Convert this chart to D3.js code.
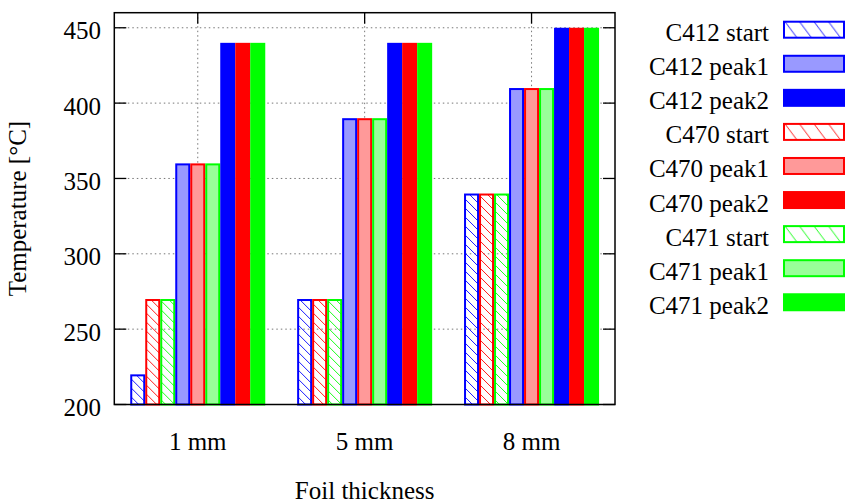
<!DOCTYPE html>
<html>
<head>
<meta charset="utf-8">
<script src="https://cdn.jsdelivr.net/npm/d3@7"></script>
<style>
  html, body { margin: 0; padding: 0; background: #fff; }
  svg { display: block; }
  svg text { font-family: 'Liberation Serif', Tinos, 'DejaVu Serif', serif; fill: #000; }
</style>
</head>
<body>
<div id="chart"></div>
<script>
// Foil thickness groups
const categories = ["1 mm", "5 mm", "8 mm"];

// Temperatures (°C) per series, one value per foil thickness
const c412Start = [220, 270, 340];
const c412Peak1 = [360, 390, 410];
const c412Peak2 = [440, 440, 450];
const c470Start = [270, 270, 340];
const c470Peak1 = [360, 390, 410];
const c470Peak2 = [440, 440, 450];
const c471Start = [270, 270, 340];
const c471Peak1 = [360, 390, 410];
const c471Peak2 = [440, 440, 450];

const seriesNames = [
  "C412 start", "C412 peak1", "C412 peak2",
  "C470 start", "C470 peak1", "C470 peak2",
  "C471 start", "C471 peak1", "C471 peak2"
];
const seriesValues = [
  c412Start, c412Peak1, c412Peak2,
  c470Start, c470Peak1, c470Peak2,
  c471Start, c471Peak1, c471Peak2
];

const yTicks = [200, 250, 300, 350, 400, 450];

// Styling per series: base colour and fill kind
const baseColors = ["#0000ff", "#ff0000", "#00ff00"];
const lightColors = ["#9999ff", "#ff9999", "#99ff99"];
const kinds = ["hatch", "light", "solid"];

const series = seriesNames.map((name, i) => ({
  name,
  values: seriesValues[i],
  color: baseColors[Math.floor(i / 3)],
  light: lightColors[Math.floor(i / 3)],
  kind: kinds[i % 3],
  ki: i % 3,
  ci: Math.floor(i / 3),
  key: "s" + i
}));

// Within a group, bars run by stage (start, peak1, peak2), then by alloy
const barOrder = series.slice().sort((a, b) => a.ki - b.ki || a.ci - b.ci);

const W = 848, H = 503;
const plot = { left: 114.3, right: 615, top: 12.7, bottom: 404.5 };

const svg = d3.select("#chart").append("svg")
  .attr("width", W).attr("height", H);

// Hatch patterns: one for bars, one for legend swatches
const defs = svg.append("defs");
baseColors.forEach((c, i) => {
  const p = defs.append("pattern")
    .attr("id", "hatch" + i)
    .attr("patternUnits", "userSpaceOnUse")
    .attr("width", 9).attr("height", 9);
  p.append("path")
    .attr("d", "M0,0 L9,9 M-1,8 L1,10 M8,-1 L10,1")
    .attr("stroke", c).attr("stroke-width", 0.9)
    .attr("fill", "none");

  const q = defs.append("pattern")
    .attr("id", "hatchKey" + i)
    .attr("patternUnits", "objectBoundingBox")
    .attr("width", 15 / 62).attr("height", 1);
  q.append("path")
    .attr("d", "M1,0 L13.7,17")
    .attr("stroke", c).attr("stroke-width", 0.9)
    .attr("fill", "none");
});

// Scales
const x0 = d3.scaleBand()
  .domain(categories)
  .range([plot.left, plot.right])
  .paddingInner(0.191)
  .paddingOuter(0.0955);

const x1 = d3.scaleBand()
  .domain(barOrder.map(s => s.key))
  .range([0, x0.bandwidth()])
  .padding(0);

const y = d3.scaleLinear()
  .domain([200, 460])
  .range([plot.bottom, plot.top]);

const centerOf = c => x0(c) + x0.bandwidth() / 2;

// Grid lines (dotted)
const grid = svg.append("g").attr("stroke", "#777").attr("stroke-width", 1)
  .attr("stroke-dasharray", "1.5,3");
grid.selectAll("line.h").data(yTicks.filter(t => t > 200)).join("line")
  .attr("class", "h")
  .attr("x1", plot.left).attr("x2", plot.right)
  .attr("y1", d => y(d)).attr("y2", d => y(d));
grid.selectAll("line.v").data(categories).join("line")
  .attr("class", "v")
  .attr("x1", d => centerOf(d)).attr("x2", d => centerOf(d))
  .attr("y1", plot.top).attr("y2", plot.bottom);

// Tick marks (inward, mirrored)
const ticks = svg.append("g").attr("stroke", "#000").attr("stroke-width", 1.3);
yTicks.forEach(t => {
  ticks.append("line").attr("x1", plot.left).attr("x2", plot.left + 12)
    .attr("y1", y(t)).attr("y2", y(t));
  ticks.append("line").attr("x1", plot.right).attr("x2", plot.right - 12)
    .attr("y1", y(t)).attr("y2", y(t));
});
categories.forEach(c => {
  ticks.append("line").attr("x1", centerOf(c)).attr("x2", centerOf(c))
    .attr("y1", plot.top).attr("y2", plot.top + 11);
  ticks.append("line").attr("x1", centerOf(c)).attr("x2", centerOf(c))
    .attr("y1", plot.bottom).attr("y2", plot.bottom - 11);
});

// Bars
const fillFor = s => s.kind === "hatch" ? `url(#hatch${s.ci})`
  : s.kind === "light" ? s.light : s.color;

const groups = svg.append("g").selectAll("g")
  .data(categories).join("g")
  .attr("transform", d => `translate(${x0(d)},0)`);

groups.selectAll("rect")
  .data((c, gi) => barOrder.map(s => ({ s, v: s.values[gi] })))
  .join("rect")
  .attr("x", d => x1(d.s.key) + 1)
  .attr("y", d => y(d.v) + 1)
  .attr("width", x1.bandwidth() - 2)
  .attr("height", d => y(200) - y(d.v) - 1)
  .attr("fill", d => fillFor(d.s))
  .attr("stroke", d => d.s.color)
  .attr("stroke-width", 2);

// Frame
svg.append("rect")
  .attr("x", plot.left).attr("y", plot.top)
  .attr("width", plot.right - plot.left)
  .attr("height", plot.bottom - plot.top)
  .attr("fill", "none").attr("stroke", "#000").attr("stroke-width", 1.5);

// Axis labels
svg.append("g").selectAll("text").data(yTicks).join("text")
  .attr("x", 101).attr("y", d => y(d) + 11.5)
  .attr("text-anchor", "end").attr("font-size", 25)
  .text(d => d);

svg.append("g").selectAll("text").data(categories).join("text")
  .attr("x", d => centerOf(d)).attr("y", 450)
  .attr("text-anchor", "middle").attr("font-size", 25)
  .text(d => d);

svg.append("text")
  .attr("x", (plot.left + plot.right) / 2).attr("y", 499)
  .attr("text-anchor", "middle").attr("font-size", 25)
  .text("Foil thickness");

svg.append("text")
  .attr("transform", `translate(26,${(plot.top + plot.bottom) / 2}) rotate(-90)`)
  .attr("text-anchor", "middle").attr("font-size", 25)
  .text("Temperature [°C]");

// Legend
const legend = svg.append("g").selectAll("g").data(series).join("g")
  .attr("transform", (d, i) => `translate(0,${20.7 + i * 34.07})`);

legend.append("text")
  .attr("x", 769).attr("y", 20.5)
  .attr("text-anchor", "end").attr("font-size", 25)
  .text(d => d.name);

legend.append("rect")
  .attr("x", 784).attr("y", 1)
  .attr("width", 60).attr("height", 16)
  .attr("fill", d => d.kind === "hatch" ? `url(#hatchKey${d.ci})`
    : d.kind === "light" ? d.light : d.color)
  .attr("stroke", d => d.color)
  .attr("stroke-width", 2);
</script>
</body>
</html>
